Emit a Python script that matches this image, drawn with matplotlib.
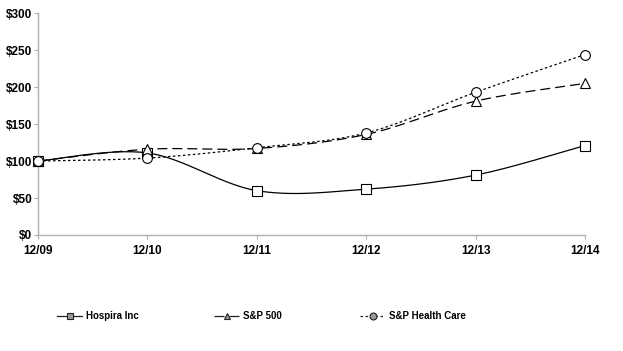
import numpy as np
import matplotlib
matplotlib.use("Agg")
import matplotlib.pyplot as plt
from matplotlib.lines import Line2D

categories = ["12/09", "12/10", "12/11", "12/12", "12/13", "12/14"]
hospira = [100, 111, 60, 62, 81, 121]
sp500 = [100, 116, 117, 136, 181, 205]
sp_health = [100, 104, 118, 138, 193, 244]
y_ticks = [0, 50, 100, 150, 200, 250, 300]
y_labels = ["$0", "$50", "$100", "$150", "$200", "$250", "$300"]

plt.rcParams['font.family'] = ['Liberation Sans', 'DejaVu Sans']


def smooth(xs, ys, n=30):
    # Excel-style smoothed line (Catmull-Rom / Bezier with 1/6 tension)
    xs = np.asarray(xs, float)
    ys = np.asarray(ys, float)
    P = np.column_stack([xs, ys])
    out = []
    for i in range(len(P) - 1):
        p0 = P[i - 1] if i > 0 else P[i]
        p1 = P[i]
        p2 = P[i + 1]
        p3 = P[i + 2] if i + 2 < len(P) else P[i + 1]
        c1 = p1 + (p2 - p0) / 6.0
        c2 = p2 - (p3 - p1) / 6.0
        t = np.linspace(0, 1, n)[:, None]
        seg = ((1 - t) ** 3) * p1 + 3 * ((1 - t) ** 2) * t * c1 + 3 * (1 - t) * t ** 2 * c2 + t ** 3 * p2
        if i > 0:
            seg = seg[1:]
        out.append(seg)
    out = np.vstack(out)
    return out[:, 0], out[:, 1]


fig = plt.figure(figsize=(6.23, 3.51), dpi=100)
ax = fig.add_axes([0.061, 0.3305, 0.878, 0.632])
x = np.arange(len(categories))

series = [
    (hospira, "Hospira Inc", "-", "s", 0.9),
    (sp500, "S&P 500", (0, (8, 4)), "^", 0.9),
    (sp_health, "S&P Health Care", (0, (2, 2)), "o", 0.9),
]
handles = []
for vals, label, ls, mk, lw in series:
    sx, sy = smooth(x, vals)
    ax.plot(sx, sy, color="black", linestyle=ls, linewidth=lw, zorder=2, clip_on=False)
    ax.plot(x, vals, linestyle="none", marker=mk, markersize=7, clip_on=False,
            markerfacecolor="white", markeredgecolor="black", markeredgewidth=0.8, zorder=3)
    handles.append(Line2D([0], [0], color="#222222", linestyle=ls, linewidth=lw,
                          marker=mk, markersize=5, markerfacecolor="#999999",
                          markeredgecolor="#222222", markeredgewidth=0.8, label=label))

ax.set_xlim(0, len(categories) - 1)
ax.set_ylim(0, 300)
ax.set_xticks(x)
ax.set_xticklabels(categories, fontsize=8.5, fontweight="bold")
ax.set_yticks(y_ticks)
ax.set_yticklabels(y_labels, fontsize=8.5, fontweight="bold")
for s in ["top", "right"]:
    ax.spines[s].set_visible(False)
for s in ["left", "bottom"]:
    ax.spines[s].set_color("#b0b0b0")
    ax.spines[s].set_linewidth(1.0)
ax.tick_params(axis="both", direction="out", length=3, color="#b0b0b0", pad=1)
ax.tick_params(axis="x", length=3, pad=4)

legend_x = [57, 214, 360]
for h, lx in zip(handles, legend_x):
    leg = fig.legend(handles=[h], loc="center left", bbox_to_anchor=(lx / 623, 1 - 316 / 351),
                     frameon=False, handlelength=2.6, handletextpad=0.4,
                     borderpad=0, borderaxespad=0,
                     prop={"weight": "bold", "size": 7})

fig.savefig("out.png", dpi=100)
